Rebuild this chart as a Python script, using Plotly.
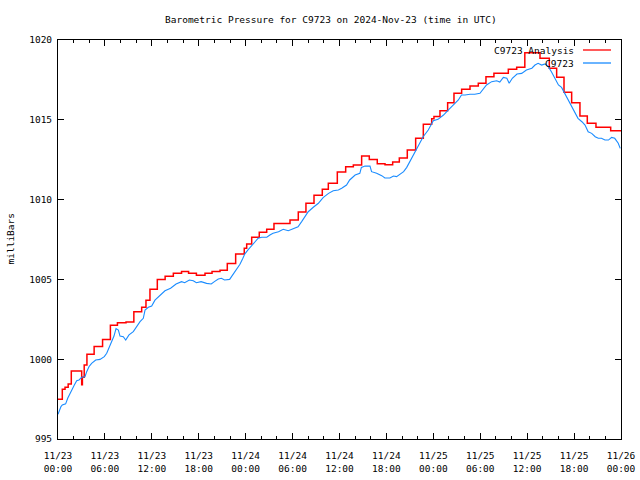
import pandas as pd
import plotly.graph_objects as go

# ---------------- data ----------------
base_time = "2024-11-23 00:00"

# Analysis (step series): hour offset from start, pressure (mb)
analysis_hours = [0.0, 0.55, 0.9, 1.3, 1.7, 3.03, 3.12, 3.35, 3.7, 4.62, 5.7, 6.7, 7.6, 8.7,
                  9.7, 10.7, 11.25, 11.76, 12.7, 13.7, 14.75, 15.8, 16.7, 17.7, 18.8, 19.7,
                  20.72, 21.65, 22.72, 23.82, 24.13, 24.77, 25.74, 26.69, 27.62, 29.67, 30.73,
                  31.71, 32.74, 33.8, 34.57, 35.72, 36.79, 37.77, 38.83, 39.81, 40.83, 41.82,
                  42.8, 43.65, 44.67, 45.74, 46.72, 47.79, 48.08, 48.85, 49.83, 50.64, 51.62,
                  52.69, 53.75, 54.73, 55.75, 57.59, 58.66, 59.7, 61.64, 62.83, 63.77, 64.71,
                  65.69, 66.75, 67.69, 68.8, 70.68, 72.0]
analysis_mb = [997.49, 998.11, 998.25, 998.45, 999.26, 998.4, 998.87, 999.64, 1000.31, 1000.8,
               1001.24, 1002.13, 1002.28, 1002.33, 1002.98, 1003.25, 1003.7, 1004.38, 1005.0,
               1005.19, 1005.38, 1005.5, 1005.38, 1005.26, 1005.38, 1005.5, 1005.57, 1006.0,
               1006.59, 1006.95, 1007.22, 1007.64, 1007.95, 1008.14, 1008.51, 1008.72, 1009.22,
               1009.77, 1010.27, 1010.65, 1011.02, 1011.73, 1012.06, 1012.17, 1012.73, 1012.52,
               1012.25, 1012.19, 1012.36, 1012.61, 1013.11, 1013.84, 1014.72, 1015.07, 1015.2,
               1015.57, 1016.07, 1016.66, 1016.91, 1017.12, 1017.29, 1017.7, 1017.91, 1018.16,
               1018.29, 1019.2, 1018.85, 1018.23, 1017.66, 1016.72, 1016.07, 1015.24, 1014.78,
               1014.53, 1014.32, 1014.32]

# Station observations
obs_hours = [0.0, 0.17, 0.38, 0.55, 0.98, 1.24, 1.53, 1.83, 2.09, 2.39, 2.69, 3.03, 3.45, 3.67,
             3.96, 4.3, 4.82, 5.37, 5.92, 6.23, 6.52, 6.87, 7.16, 7.42, 7.72, 7.93, 8.35, 8.66,
             9.08, 9.63, 10.06, 10.49, 10.91, 11.13, 11.55, 11.98, 12.4, 13.04, 13.68, 14.4,
             14.9, 15.1, 15.8, 16.2, 16.8, 17.3, 17.7, 18.3, 19.0, 19.6, 20.0, 20.5, 20.9, 21.3,
             21.95, 22.4, 22.85, 23.27, 23.6, 23.9, 24.3, 24.97, 25.6, 26.05, 26.7, 27.1, 27.5,
             28.2, 28.8, 29.45, 30.1, 30.7, 31.16, 31.6, 32.0, 32.65, 33.3, 33.9, 34.6, 35.2,
             35.85, 36.28, 36.9, 37.3, 38.0, 38.6, 38.8, 39.26, 39.9, 40.1, 40.75, 41.4, 41.8,
             42.45, 42.9, 43.3, 43.7, 44.2, 44.6, 45.0, 45.4, 45.9, 46.3, 46.7, 47.35, 48.0,
             48.6, 49.3, 49.9, 50.55, 51.2, 51.6, 52.05, 52.7, 53.3, 53.96, 54.4, 54.8, 55.46,
             56.1, 56.5, 56.95, 57.4, 57.7, 58.1, 58.7, 59.3, 59.9, 60.6, 61.0, 61.4, 61.85,
             62.3, 62.7, 63.1, 63.55, 64.0, 64.4, 64.8, 65.3, 65.7, 66.1, 66.5, 67.0, 67.4,
             67.8, 68.25, 68.7, 69.1, 69.5, 69.95, 70.4, 70.8, 71.2, 71.65, 71.9]
obs_mb = [996.55, 996.82, 997.03, 997.13, 997.2, 997.55, 997.86, 998.18, 998.38, 998.65, 998.7,
          998.87, 998.9, 999.22, 999.53, 999.74, 999.95, 999.99, 1000.16, 1000.37, 1000.68,
          1001.1, 1001.45, 1001.92, 1001.83, 1001.45, 1001.41, 1001.2, 1001.52, 1001.73,
          1002.04, 1002.35, 1002.56, 1003.08, 1003.25, 1003.33, 1003.7, 1004.02, 1004.29,
          1004.45, 1004.65, 1004.71, 1004.86, 1004.79, 1004.96, 1004.92, 1004.79, 1004.86,
          1004.75, 1004.71, 1004.86, 1005.02, 1005.07, 1004.96, 1005.0, 1005.33, 1005.66,
          1005.95, 1006.28, 1006.6, 1006.85, 1007.26, 1007.58, 1007.64, 1007.64, 1007.78,
          1007.89, 1007.99, 1008.14, 1008.05, 1008.2, 1008.3, 1008.62, 1008.93, 1009.24,
          1009.52, 1009.77, 1010.12, 1010.39, 1010.56, 1010.6, 1010.71, 1010.91, 1011.23,
          1011.54, 1011.65, 1012.02, 1012.1, 1012.1, 1011.75, 1011.65, 1011.5, 1011.35,
          1011.35, 1011.48, 1011.44, 1011.58, 1011.75, 1012.02, 1012.38, 1012.79, 1013.21,
          1013.63, 1013.94, 1014.36, 1014.94, 1015.03, 1015.3, 1015.61, 1015.93, 1016.24,
          1016.55, 1016.55, 1016.6, 1016.6, 1016.66, 1016.91, 1017.18, 1017.39, 1017.45,
          1017.37, 1017.66, 1017.6, 1017.29, 1017.6, 1017.87, 1017.91, 1018.12, 1018.23,
          1018.43, 1018.54, 1018.43, 1018.5, 1018.33, 1018.01, 1017.6, 1017.18, 1017.03,
          1016.66, 1016.24, 1015.82, 1015.41, 1015.09, 1014.88, 1014.67, 1014.25, 1014.15,
          1013.94, 1013.84, 1013.84, 1013.73, 1013.73, 1013.9, 1013.84, 1013.53, 1013.21]

series_names = ["C9723 Analysis", "C9723"]
title_text = "Barometric Pressure for C9723 on 2024-Nov-23 (time in UTC)"
y_label = "milliBars"
y_ticks = [995, 1000, 1005, 1010, 1015, 1020]

# ---------------- figure ----------------
t0 = pd.Timestamp(base_time)
analysis_t = t0 + pd.to_timedelta(analysis_hours, unit="h")
obs_t = t0 + pd.to_timedelta(obs_hours, unit="h")

FONT = "DejaVu Sans Mono"
FS = 9.5
RED = "#ff0000"
BLUE = "#1a8cff"

fig = go.Figure()
fig.add_trace(go.Scatter(x=analysis_t, y=analysis_mb, mode="lines", line_shape="hv",
                         line=dict(color=RED, width=1.5), name=series_names[0],
                         showlegend=False))
fig.add_trace(go.Scatter(x=obs_t, y=obs_mb, mode="lines",
                         line=dict(color=BLUE, width=1.1), name=series_names[1],
                         showlegend=False))

fig.update_layout(
    width=640, height=480,
    margin=dict(l=58, r=19, t=40, b=41, autoexpand=False),
    paper_bgcolor="white", plot_bgcolor="white",
    font=dict(family=FONT, size=FS, color="black"),
    title=dict(text=title_text, x=0.517, xanchor="center", y=1 - 20 / 480,
               yanchor="middle", font=dict(family=FONT, size=FS, color="black")),
    showlegend=False,
)

fig.update_xaxes(
    type="date",
    range=[t0, t0 + pd.Timedelta(hours=72)],
    dtick=6 * 3600 * 1000, tick0=t0,
    tickformat="%m/%d<br>%H:%M",
    ticks="inside", ticklen=6, tickcolor="black", tickwidth=1,
    ticklabelstandoff=8,
    minor=dict(dtick=2 * 3600 * 1000, tick0=t0, ticks="inside", ticklen=3,
               tickcolor="black", showgrid=False),
    showline=True, linecolor="black", linewidth=1, mirror="ticks",
    showgrid=False, zeroline=False, automargin=False,
    tickfont=dict(family=FONT, size=FS, color="black"),
)
fig.update_yaxes(
    range=[995, 1020], tickvals=y_ticks,
    ticks="inside", ticklen=6, tickcolor="black", tickwidth=1,
    ticklabelstandoff=3,
    showline=True, linecolor="black", linewidth=1, mirror="ticks",
    showgrid=False, zeroline=False, automargin=False,
    tickfont=dict(family=FONT, size=FS, color="black"),
)

# y-axis label
fig.add_annotation(text=y_label, xref="paper", yref="paper", x=(10 - 58) / 563, y=0.5,
                   textangle=-90, showarrow=False, xanchor="center", yanchor="middle",
                   font=dict(family=FONT, size=FS, color="black"))

# gnuplot-style key: text then line sample, top right inside plot
key_rows = [(series_names[0], RED, 50), (series_names[1], BLUE, 63)]
for name, col, py in key_rows:
    yp = (439 - py) / 399
    fig.add_annotation(text=name, xref="paper", yref="paper", x=(576 - 58) / 563, y=yp,
                       showarrow=False, xanchor="right", yanchor="middle",
                       font=dict(family=FONT, size=FS, color="black"))
    fig.add_shape(type="line", xref="paper", yref="paper",
                  x0=(583 - 58) / 563, x1=(611 - 58) / 563, y0=yp, y1=yp,
                  line=dict(color=col, width=1.3))

# remove the browser's default page margin so the figure sits at (0, 0)
fig.write_html("out.html", config={"displayModeBar": False},
               post_script="document.body.style.margin='0';")
